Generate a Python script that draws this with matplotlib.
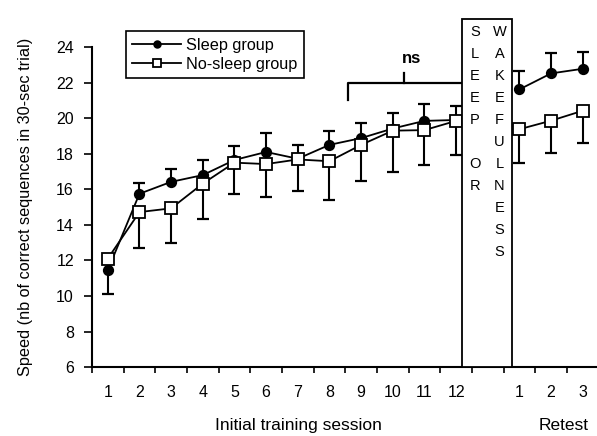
import numpy as np
import matplotlib.pyplot as plt
from matplotlib.patches import Rectangle

plt.rcParams['font.family'] = ['Liberation Sans', 'DejaVu Sans']

# session positions (retest sits after a gap for the sleep/wake interval)
sessions = np.arange(1, 13)
retest_pos = np.array([14, 15, 16])
session_labels = [str(i) for i in range(1, 13)]
retest_labels = ['1', '2', '3']

# sleep group (filled circles) - error bars mostly upward
sleep_train = [11.45, 15.75, 16.42, 16.8, 17.65, 18.1, 17.72, 18.5, 18.88, 19.42, 19.85, 19.9]
sleep_train_lo = [1.35, 0, 0, 0, 0, 0, 0, 0, 0, 0, 0, 0]
sleep_train_hi = [0, 0.62, 0.75, 0.85, 0.8, 1.08, 0.78, 0.8, 0.86, 0.85, 0.95, 0.8]
sleep_retest = [21.62, 22.52, 22.78]
sleep_retest_lo = [0, 0, 0]
sleep_retest_hi = [1.03, 1.12, 0.92]

# no-sleep group (open squares) - error bars downward
nosleep_train = [12.1, 14.72, 14.93, 16.32, 17.5, 17.42, 17.68, 17.58, 18.5, 19.3, 19.33, 19.85]
nosleep_train_lo = [0, 2.02, 1.97, 2.0, 1.75, 1.85, 1.8, 2.2, 2.05, 2.3, 1.95, 1.9]
nosleep_train_hi = [0] * 12
nosleep_retest = [19.38, 19.86, 20.42]
nosleep_retest_lo = [1.92, 1.8, 1.8]
nosleep_retest_hi = [0, 0, 0]

fig = plt.figure(figsize=(5.97, 4.36), dpi=100)
ax = fig.add_axes([0.154, 0.158, 0.846, 0.734])


def draw_segment(x, y, lo, hi, marker, ms, face, z, label=None):
    x = np.asarray(x, float)
    y = np.asarray(y, float)
    lo = np.asarray(lo, float)
    hi = np.asarray(hi, float)
    ax.vlines(x, y - lo, y + hi, color='black', linewidth=1.5, zorder=z - 0.5)
    m = lo > 0
    ax.plot(x[m], (y - lo)[m], linestyle='none', marker='_', markersize=8,
            markeredgewidth=1.6, color='black', zorder=z - 0.5)
    m = hi > 0
    ax.plot(x[m], (y + hi)[m], linestyle='none', marker='_', markersize=8,
            markeredgewidth=1.6, color='black', zorder=z - 0.5)
    ax.plot(x, y, '-', color='black', linewidth=1.3, marker=marker, markersize=ms,
            markerfacecolor=face, markeredgecolor='black', markeredgewidth=1.3,
            zorder=z, label=label)


draw_segment(sessions, sleep_train, sleep_train_lo, sleep_train_hi, 'o', 6.8, 'black', 3,
             'Sleep group')
draw_segment(retest_pos, sleep_retest, sleep_retest_lo, sleep_retest_hi, 'o', 6.8, 'black', 3)
draw_segment(sessions, nosleep_train, nosleep_train_lo, nosleep_train_hi, 's', 8.5, 'white', 4,
             'No-sleep group')
draw_segment(retest_pos, nosleep_retest, nosleep_retest_lo, nosleep_retest_hi, 's', 8.5, 'white', 4)

# sleep / wakefulness interval box
ax.add_patch(Rectangle((12.2, 6), 1.55, 19.6, facecolor='white', edgecolor='black',
                       linewidth=1.3, clip_on=False, zorder=5))
for i, ch in enumerate('SLEEP OR'):
    ax.text(12.6, 24.85 - i * 1.24, ch, ha='center', va='center', fontsize=10.5, zorder=6)
for i, ch in enumerate('WAKEFULNESS'):
    ax.text(13.37, 24.85 - i * 1.24, ch, ha='center', va='center', fontsize=10.5, zorder=6)

# ns bracket
ax.plot([8.6, 8.6, 12.2], [21.0, 22.0, 22.0], color='black', linewidth=1.6, clip_on=False)
ax.plot([10.36, 10.36], [22.0, 22.55], color='black', linewidth=1.6, clip_on=False)
ax.text(10.6, 23.35, 'ns', ha='center', va='center', fontsize=12, fontweight='bold')

ax.set_xlim(0.5, 16.45)
ax.set_ylim(6, 24)
ax.set_yticks(np.arange(6, 25, 2))
ax.set_xticks(list(sessions) + list(retest_pos))
ax.set_xticklabels(session_labels + retest_labels)
ax.set_xticks(np.arange(0.5, 16, 1), minor=True)
ax.tick_params(axis='x', which='major', length=0, pad=13, labelsize=11.5)
ax.tick_params(axis='x', which='minor', length=4, width=1.2, direction='out')
ax.tick_params(axis='y', length=6, width=1.2, pad=7, labelsize=11.5)

for side in ['top', 'right']:
    ax.spines[side].set_visible(False)
for side in ['left', 'bottom']:
    ax.spines[side].set_linewidth(1.5)

ax.set_ylabel('Speed (nb of correct sequences in 30-sec trial)', fontsize=11.7)
ax.yaxis.set_label_coords(-0.117, 0.5)
ax.text(0.408, -0.181, 'Initial training session', transform=ax.transAxes,
        ha='center', va='center', fontsize=12.5)
ax.text(0.933, -0.181, 'Retest', transform=ax.transAxes,
        ha='center', va='center', fontsize=12.5)

leg = ax.legend(loc='upper left', bbox_to_anchor=(0.067, 1.05), borderaxespad=0,
                fontsize=11.7, handlelength=3, markerscale=0.7, fancybox=False,
                framealpha=1, edgecolor='black', borderpad=0.4, labelspacing=0.25,
                handletextpad=0.3)
leg.get_frame().set_linewidth(1.2)

fig.savefig('out.png', dpi=100)
